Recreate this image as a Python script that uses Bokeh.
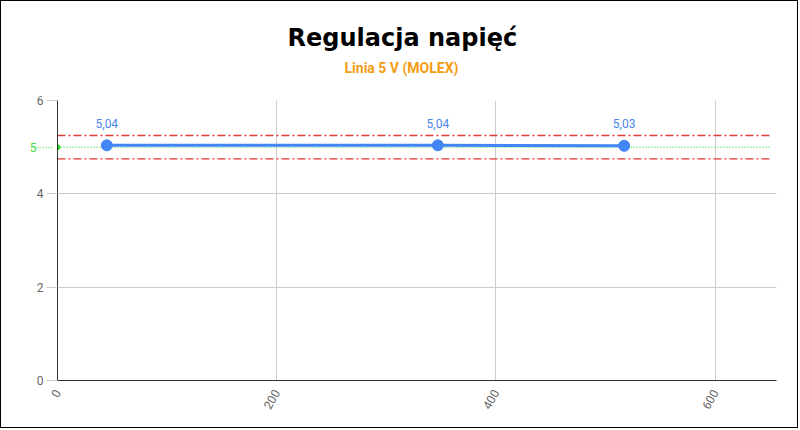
from bokeh.plotting import figure
from bokeh.models import ColumnDataSource, FixedTicker, Range1d, Title, LinearAxis
from bokeh.core.properties import value
from bokeh.embed import file_html
from bokeh.resources import INLINE
import math

# ---- data ----
load_x = [45, 347, 517]
voltage = [5.04, 5.04, 5.03]
voltage_labels = ["5,04", "5,04", "5,03"]
nominal = 5.0
upper_limit = 5.25
lower_limit = 4.75
ref_x = [0, 650]
x_ticks = [0, 200, 400, 600]
y_ticks = [0, 2, 4, 6]
title_text = "Regulacja napięć"
subtitle_text = "Linia 5 V (MOLEX)"

p = figure(width=798, height=428, output_backend="svg", toolbar_location=None,
           x_range=Range1d(0, 656), y_range=Range1d(0, 6),
           min_border_left=56, min_border_right=23, min_border_top=99, min_border_bottom=49)
p.styles = {"border": "1px solid #000"}
p.outline_line_color = None
p.background_fill_color = "white"
p.border_fill_color = "white"

# titles (subtitle first -> closest to the frame)
p.add_layout(Title(text=subtitle_text, align="left", offset=287, text_font="Roboto",
                   text_font_style="bold", text_font_size="14px", text_color="#f39c12",
                   standoff=49), "above")
p.add_layout(Title(text=title_text, align="left", offset=230, text_font="DejaVu Sans",
                   text_font_style="bold", text_font_size="24px", text_color="#000000",
                   standoff=-37), "above")

# axes
p.xaxis.ticker = FixedTicker(ticks=x_ticks)
p.yaxis.ticker = FixedTicker(ticks=y_ticks)
for ax in (p.xaxis[0], p.yaxis[0]):
    ax.axis_line_color = "#333333"
    ax.axis_line_width = 1
    ax.minor_tick_line_color = None
    ax.major_label_text_font = "Roboto"
    ax.major_label_text_font_size = "12px"
    ax.major_label_text_color = "#666666"
p.xaxis.major_tick_line_color = None
p.xaxis.major_label_orientation = math.pi / 3
p.xaxis.major_label_standoff = 4
p.yaxis.major_tick_line_color = "#cccccc"
p.yaxis.major_tick_out = 11
p.yaxis.major_tick_in = 0
p.yaxis.major_label_standoff = 3

# green nominal tick on a second left axis (stacked just outside the main one)
nom_axis = LinearAxis(ticker=FixedTicker(ticks=[nominal]),
                      axis_line_color=None, minor_tick_line_color=None,
                      major_tick_line_color="#66e066", major_tick_line_dash="1 2",
                      major_tick_line_width=1.5, major_tick_out=0, major_tick_in=21,
                      major_label_standoff=-3, major_label_text_font="Roboto",
                      major_label_text_font_size="12px", major_label_text_color="#44dd44")
p.add_layout(nom_axis, "left")

p.xgrid.ticker = FixedTicker(ticks=[200, 400, 600])
p.ygrid.ticker = FixedTicker(ticks=[2, 4, 6])
p.xgrid.grid_line_color = "#cccccc"
p.ygrid.grid_line_color = "#cccccc"

# reference lines
p.line(ref_x, [upper_limit] * 2, line_color="#e53935", line_width=1.3, line_dash="8 3 2 3")
p.line(ref_x, [lower_limit] * 2, line_color="#e53935", line_width=1.3, line_dash="8 3 2 3")
p.line(ref_x, [nominal] * 2, line_color="#55e055", line_width=1.5, line_dash="1 2")
p.scatter([ref_x[0]], [nominal], size=5, color="#22dd22")

# data series
src = ColumnDataSource(dict(x=load_x, y=voltage, t=voltage_labels))
p.line("x", "y", source=src, line_color="#4285f4", line_width=3)
p.scatter("x", "y", source=src, size=11, color="#4285f4")
p.text("x", "y", text="t", source=src, y_offset=-22, text_align="center",
       text_baseline="middle", text_font=value("Roboto"), text_font_size="12px",
       text_color="#4a86e8")

open("out.html", "w").write(file_html(p, INLINE))
